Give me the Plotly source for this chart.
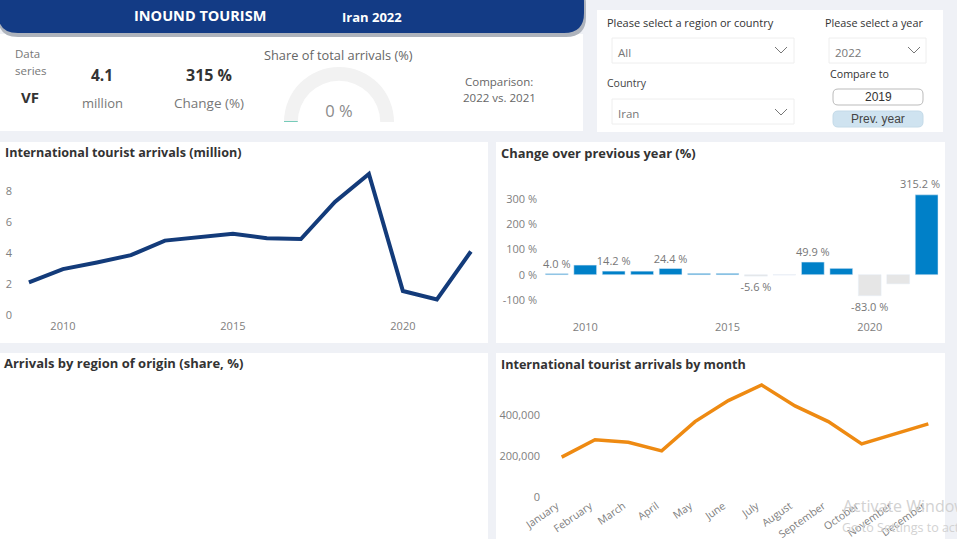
import plotly.graph_objects as go

W = 957
H = 539
FONT = "Open Sans"

# yearly data
years = list(range(2009, 2023))
arrivals = [2.1, 2.96, 3.39, 3.86, 4.8, 5.0, 5.24, 4.96, 4.9, 7.3, 9.1, 1.55, 1.0, 4.1]
change_years = list(range(2009, 2023))
change_pct = [4.0, 38, 14.2, 14, 24.4, 5, 5, -5.6, -1, 49.9, 25, -83.0, -36, 315.2]
change_labels = ["4.0 %", "", "14.2 %", "", "24.4 %", "", "", "-5.6 %", "", "49.9 %", "", "-83.0 %", "", ""]

# monthly data
months = ["January", "February", "March", "April", "May", "June", "July",
          "August", "September", "October", "November", "December"]
monthly = [195000, 280000, 268000, 226000, 369000, 472000, 548000,
           446000, 369000, 260000, 309000, 358000]

share_value = 0.49
year_ticks = [2010, 2015, 2020]
arrival_ticks = [0, 2, 4, 6, 8]
change_ticks = [-100, 0, 100, 200, 300]
month_ticks = [0, 200000, 400000]


def px(x):
    return x / W


def py(y):
    return 1 - y / H


def box(x0, y0, x1, y1, fill="white", line=None, lw=1):
    return dict(type="rect", xref="paper", yref="paper", layer="below",
                x0=px(x0), x1=px(x1), y0=py(y0), y1=py(y1), fillcolor=fill,
                line=dict(color=line, width=lw) if line else dict(width=0))


def rounded(x0, y0, x1, y1, r, fill, line=None):
    # rounded rectangle, paper coords
    a, b, c, d = px(x0), px(x1), py(y0), py(y1)
    rx, ry = r / W, r / H
    path = (f"M {a + rx},{c} L {b - rx},{c} Q {b},{c} {b},{c - ry} L {b},{d + ry} Q {b},{d} {b - rx},{d} "
            f"L {a + rx},{d} Q {a},{d} {a},{d + ry} L {a},{c - ry} Q {a},{c} {a + rx},{c} Z")
    return dict(type="path", xref="paper", yref="paper", layer="below", path=path,
                fillcolor=fill, line=dict(color=line, width=1) if line else dict(width=0))


def chevron(x, y):
    path = f"M {px(x - 6)},{py(y - 3)} L {px(x)},{py(y + 3)} L {px(x + 6)},{py(y - 3)}"
    return dict(type="path", xref="paper", yref="paper", path=path,
                line=dict(color="#777777", width=1))


def label(text, x, y, size=11, color="#666666", bold=False, anchor="left", family=FONT):
    # annotations carry about 2px of padding on the left
    if anchor == "left":
        x = x - 2
    return dict(text=f"<b>{text}</b>" if bold else text, x=px(x), y=py(y), xref="paper", yref="paper",
                xanchor=anchor, yanchor="middle", showarrow=False,
                font=dict(family=family, size=size, color=color))


shapes = [
    # panels
    box(0, 34, 583, 131),
    box(597, 10, 943, 132),
    box(0, 142, 488, 343),
    box(496, 142, 945, 343),
    box(0, 353, 488, 539),
    box(496, 353, 945, 539),
    # header with shadow
    rounded(-2, -16, 586, 37, 20, "#AEB3BC"),
    rounded(-2, -18, 584, 33, 20, "#133B85"),
    # slicers
    box(612, 38, 794, 63, line="#EEEEEE"),
    box(829, 38, 926, 63, line="#EEEEEE"),
    box(612, 99, 794, 124, line="#EEEEEE"),
    rounded(833, 89, 923, 105, 5, "white", "#BBBBBB"),
    rounded(833, 111, 923, 127, 5, "#CFE3F0", "#C4DAE8"),
    chevron(781, 50), chevron(914, 50), chevron(781, 112),
]

annotations = [
    label("INOUND TOURISM", 200, 16, size=14.5, color="white", bold=True, anchor="center"),
    label("Iran 2022", 372, 17, size=13, color="white", bold=True, anchor="center"),
    label("Data", 15, 53, size=11.5, color="#777777"),
    label("series", 15, 70, size=11.5, color="#777777"),
    label("VF", 30, 97, size=15, color="#333333", bold=True, anchor="center"),
    label("4.1", 102, 75, size=15.5, color="#333333", bold=True, anchor="center"),
    label("million", 102, 103, size=13, color="#777777", anchor="center"),
    label("315 %", 209, 75, size=16, color="#333333", bold=True, anchor="center"),
    label("Change (%)", 209, 103, size=13.5, color="#777777", anchor="center"),
    label("Share of total arrivals (%)", 338, 55, size=12.8, color="#666666", anchor="center"),
    label("Comparison:", 499, 81, size=11.5, color="#666666", anchor="center"),
    label("2022 vs. 2021", 499, 97, size=11.5, color="#666666", anchor="center"),
    label("Please select a region or country", 607, 22, size=11, color="#333333"),
    label("Please select a year", 825, 22, size=10.8, color="#333333"),
    label("All", 618, 52, size=11.5, color="#777777"),
    label("2022", 835, 52, size=11.5, color="#777777"),
    label("Compare to", 830, 74, size=10.7, color="#333333"),
    label("Country", 607, 83, size=10.5, color="#444444"),
    label("Iran", 618, 113, size=11.5, color="#777777"),
    label("2019", 878, 97, size=12, color="#333333", anchor="center", family="Liberation Sans"),
    label("Prev. year", 878, 119, size=12, color="#444444", anchor="center", family="Liberation Sans"),
    label("International tourist arrivals (million)", 5, 152, size=12.6, color="#333333", bold=True),
    label("Change over previous year (%)", 501, 153, size=12.9, color="#333333", bold=True),
    label("Arrivals by region of origin (share, %)", 4, 363, size=13, color="#333333", bold=True),
    label("International tourist arrivals by month", 501, 364, size=12.6, color="#333333", bold=True),
    label("Activate Windows", 843, 506, size=16, color="#D2D2D2"),
    label("Go to Settings to activate Windows.", 842, 527, size=12.5, color="#D2D2D2"),
    # last bar label is pulled in so it stays inside the panel
    dict(text=f"{change_pct[-1]} %", x=change_years[-1], y=change_pct[-1], xref="x2", yref="y2",
         xanchor="center", yanchor="bottom", xshift=-7, yshift=2, showarrow=False,
         font=dict(family=FONT, size=11, color="#777777")),
]

fig = go.Figure()

fig.add_trace(go.Scatter(x=years, y=arrivals, mode="lines", xaxis="x", yaxis="y",
                         line=dict(color="#133B7A", width=4), hoverinfo="skip"))

bar_colors = ["#0080C8" if v >= 0 else "#E6E6E6" for v in change_pct]
fig.add_trace(go.Bar(x=change_years, y=change_pct, xaxis="x2", yaxis="y2", marker=dict(color=bar_colors),
                     text=change_labels, textposition="outside", textangle=0, constraintext="none",
                     cliponaxis=False, textfont=dict(family=FONT, size=11, color="#777777"), hoverinfo="skip"))

fig.add_trace(go.Scatter(x=months, y=monthly, mode="lines", xaxis="x3", yaxis="y3",
                         line=dict(color="#EE8A12", width=3.5), hoverinfo="skip"))

fig.add_trace(go.Indicator(mode="gauge+number", value=share_value,
                           domain=dict(x=[px(283), px(395)], y=[py(122), py(67)]),
                           number=dict(suffix=" %", valueformat=".0f",
                                       font=dict(family=FONT, size=16.5, color="#8A8A8A")),
                           gauge=dict(axis=dict(range=[0, 100], visible=False),
                                      bar=dict(color="#4DBFA6", thickness=1, line=dict(width=0)),
                                      bgcolor="#F2F2F2", borderwidth=0)))

tick_font = dict(family=FONT, size=11, color="#808080")
base_axis = dict(showgrid=False, zeroline=False, showline=False, ticks="", tickfont=tick_font, automargin=False)

fig.update_layout(
    width=W, height=H, autosize=False, margin=dict(l=0, r=0, t=0, b=0),
    paper_bgcolor="#EFF1F6", plot_bgcolor="rgba(0,0,0,0)", showlegend=False, bargap=0.2,
    font=dict(family=FONT),
    shapes=shapes, annotations=annotations,
    xaxis=dict(base_axis, domain=[px(16), px(476)], range=[2008.62, 2022.15], tickvals=year_ticks,
               ticklabelstandoff=3),
    yaxis=dict(base_axis, domain=[py(315), py(165)], range=[0, 9.68], tickvals=arrival_ticks,
               ticklabelstandoff=3),
    xaxis2=dict(base_axis, domain=[px(538), px(940)], range=[2008.34, 2022.47], tickvals=year_ticks, anchor="y2",
                ticklabelstandoff=3),
    yaxis2=dict(base_axis, domain=[py(316), py(165)], range=[-163, 433], tickvals=change_ticks,
                ticktext=[f"{v} %" for v in change_ticks], anchor="x2"),
    xaxis3=dict(base_axis, domain=[px(541), px(940)], range=[-0.62, 11.35], tickangle=-35,
                tickvals=months, anchor="y3", ticklabelshift=-5,
                tickfont=dict(family=FONT, size=10.5, color="#808080")),
    yaxis3=dict(base_axis, domain=[py(497), py(375)], range=[0, 597000], tickvals=month_ticks,
                tickformat=",", anchor="x3"),
)

fig.write_html("out.html", config=dict(displayModeBar=False),
               post_script="document.body.style.margin='0';document.body.style.overflow='hidden';")
